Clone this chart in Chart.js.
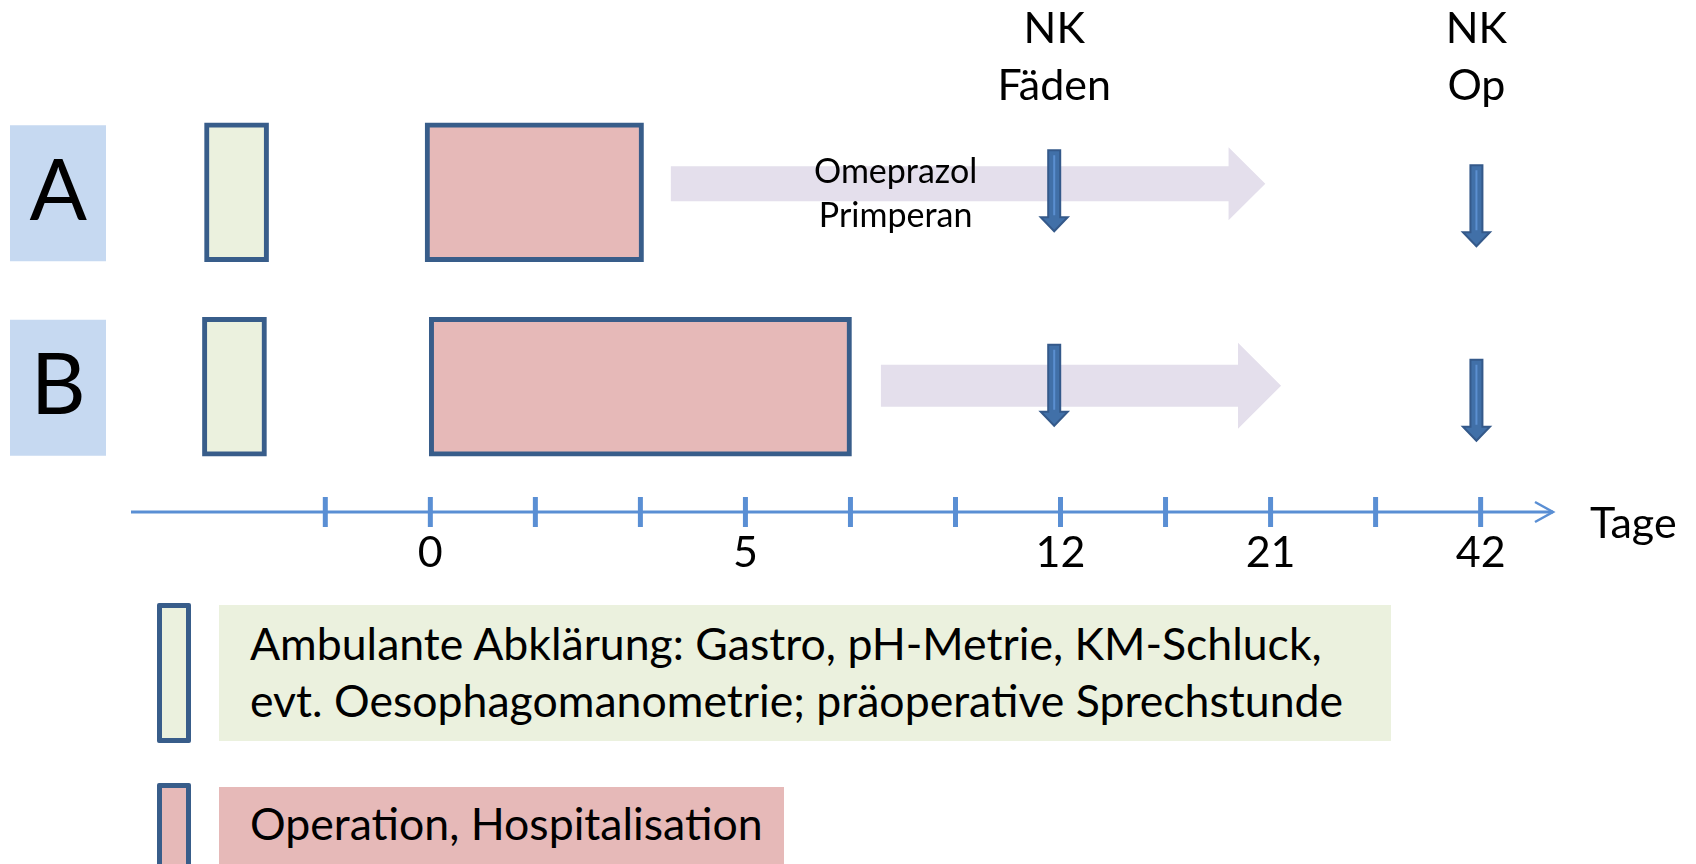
<!DOCTYPE html>
<html>
<head>
<meta charset="utf-8">
<script src="https://cdn.jsdelivr.net/npm/chart.js@4.4.1/dist/chart.umd.min.js"></script>
<style>
  body { margin: 0; background: #fff; }
  #wrap { position: relative; width: 1696px; height: 864px; overflow: hidden; font-family: Lato, sans-serif; }
  canvas { position: absolute; left: 0; top: 0; }
  .key { position: absolute; box-sizing: border-box; border: 5px solid #385d8a; border-radius: 2px; }
  .txt { position: absolute; box-sizing: border-box; font-size: 44.6px; line-height: 57px; color: #000; padding-left: 31px; white-space: nowrap; }
</style>
</head>
<body>
<div id="wrap">
  <canvas id="timeline" width="1696" height="864"></canvas>
  <div class="key" style="left:157px;top:603px;width:34px;height:140px;background:#ebf1de"></div>
  <div class="txt" style="left:219px;top:605px;width:1172px;height:136px;background:#ebf1de;padding-top:9px">Ambulante Abklärung: Gastro, pH-Metrie, KM-Schluck,<br>evt. Oesophagomanometrie; präoperative Sprechstunde</div>
  <div class="key" style="left:157px;top:783px;width:34px;height:110px;background:#e6b9b8"></div>
  <div class="txt" style="left:219px;top:787px;width:565px;height:100px;background:#e6b9b8;padding-top:7px">Operation, Hospitalisation</div>
</div>
<script>
// Positionen in Achseneinheiten (ein Strich = 1)
const rows = ['A', 'B'];
const tickLabels = ['', '0', '', '', '5', '', '', '12', '', '21', '', '42'];
const ambulant = [[-1.15, -0.54], [-1.17, -0.56]];
const hospital = [[0.95, 3.03], [0.99, 5.01]];
const medication = [[3.29, 8.95], [5.29, 9.10]];
const medHeadStart = [8.60, 8.69];
const medText = ['Omeprazol', 'Primperan'];
const medTextPos = 5.43;
const controls = [6.94, 10.96];
const controlLabels = [['NK', 'Fäden'], ['NK', 'Op']];

Chart.defaults.font.family = 'Lato, sans-serif';
Chart.defaults.color = '#000';

const axisBlue = '#5a8fd4';

function downArrow(ctx, x, top, len) {
    ctx.beginPath();
    ctx.moveTo(x - 6, top);
    ctx.lineTo(x + 6, top);
    ctx.lineTo(x + 6, top + len - 14);
    ctx.lineTo(x + 13.5, top + len - 14);
    ctx.lineTo(x, top + len);
    ctx.lineTo(x - 13.5, top + len - 14);
    ctx.lineTo(x - 6, top + len - 14);
    ctx.closePath();
    ctx.fillStyle = '#4170a8';
    ctx.fill();
    ctx.strokeStyle = '#34598a';
    ctx.lineWidth = 2;
    ctx.stroke();
    ctx.beginPath();
    ctx.moveTo(x, top + 5);
    ctx.lineTo(x, top + len - 16);
    ctx.strokeStyle = '#5b8fd0';
    ctx.lineWidth = 2;
    ctx.stroke();
}

const extras = {
    id: 'extras',
    beforeDraw(chart) {
        // blaue Kaestchen hinter A / B
        const ctx = chart.ctx, y = chart.scales.y;
        ctx.save();
        ctx.fillStyle = '#c6d9f1';
        rows.forEach((r, i) => {
            const cy = y.getPixelForValue(i);
            ctx.fillRect(10, cy - 67, 96, 136);
        });
        ctx.restore();
    },
    beforeDatasetsDraw(chart) {
        const ctx = chart.ctx, x = chart.scales.x, y = chart.scales.y;
        const body = [17.5, 21], head = [36.5, 43], shift = [-8.5, -1];
        ctx.save();
        ctx.fillStyle = '#e4dfec';
        medication.forEach((m, i) => {
            const cy = y.getPixelForValue(i) + shift[i];
            const x0 = x.getPixelForValue(m[0]), x1 = x.getPixelForValue(m[1]);
            const xh = x.getPixelForValue(medHeadStart[i]);
            ctx.beginPath();
            ctx.moveTo(x0, cy - body[i]);
            ctx.lineTo(xh, cy - body[i]);
            ctx.lineTo(xh, cy - head[i]);
            ctx.lineTo(x1, cy);
            ctx.lineTo(xh, cy + head[i]);
            ctx.lineTo(xh, cy + body[i]);
            ctx.lineTo(x0, cy + body[i]);
            ctx.closePath();
            ctx.fill();
        });
        ctx.restore();
    },
    afterDatasetsDraw(chart) {
        const ctx = chart.ctx, x = chart.scales.x, y = chart.scales.y;
        const area = chart.chartArea;
        ctx.save();
        // Zeitachse mit Pfeil
        const ay = x.top + 28;
        ctx.strokeStyle = axisBlue;
        ctx.lineWidth = 3;
        ctx.beginPath();
        ctx.moveTo(area.left, ay);
        ctx.lineTo(area.right + 2, ay);
        ctx.stroke();
        ctx.lineWidth = 2.5;
        ctx.beginPath();
        ctx.moveTo(area.right - 16, ay - 10);
        ctx.lineTo(area.right + 2, ay);
        ctx.lineTo(area.right - 16, ay + 10);
        ctx.stroke();
        ctx.lineWidth = 5;
        x.ticks.forEach(t => {
            const px = x.getPixelForValue(t.value);
            ctx.beginPath();
            ctx.moveTo(px, ay - 15);
            ctx.lineTo(px, ay + 15);
            ctx.stroke();
        });
        ctx.fillStyle = '#000';
        ctx.textBaseline = 'alphabetic';
        ctx.font = '43px Lato, sans-serif';
        ctx.textAlign = 'left';
        ctx.fillText('Tage', area.right + 39, ay + 26);

        // Medikamente
        ctx.textAlign = 'center';
        ctx.font = '34px Lato, sans-serif';
        const my = y.getPixelForValue(0);
        ctx.fillText(medText[0], x.getPixelForValue(medTextPos), my - 9);
        ctx.fillText(medText[1], x.getPixelForValue(medTextPos), my + 35);

        // Nachkontrollen
        const tops = [-42, -27];
        controls.forEach((c, k) => {
            const px = x.getPixelForValue(c);
            rows.forEach((r, i) => downArrow(ctx, px, y.getPixelForValue(i) + tops[k], 81));
            ctx.fillStyle = '#000';
            ctx.font = '43px Lato, sans-serif';
            ctx.fillText(controlLabels[k][0], px, area.top - 52);
            ctx.fillText(controlLabels[k][1], px, area.top + 5);
        });
        ctx.restore();
    }
};

new Chart(document.getElementById('timeline'), {
    type: 'bar',
    data: {
        labels: rows,
        datasets: [{
            label: 'Ambulante Abklärung',
            data: ambulant,
            backgroundColor: '#ebf1de',
            borderColor: '#385d8a',
            borderWidth: 5,
            borderSkipped: false,
            barThickness: 139,
            grouped: false
        }, {
            label: 'Operation, Hospitalisation',
            data: hospital,
            backgroundColor: '#e6b9b8',
            borderColor: '#385d8a',
            borderWidth: 5,
            borderSkipped: false,
            barThickness: 139,
            grouped: false
        }]
    },
    options: {
        indexAxis: 'y',
        responsive: false,
        animation: false,
        layout: { padding: { left: 0, right: 145, top: 92, bottom: 280 } },
        plugins: { legend: { display: false }, tooltip: { enabled: false } },
        scales: {
            x: {
                type: 'linear',
                min: -1.85,
                max: 11.67,
                afterBuildTicks: s => { s.ticks = tickLabels.map((_, i) => ({ value: i })); },
                afterFit: s => { s.height = 100; },
                grid: { display: false, drawTicks: false },
                border: { display: false },
                ticks: {
                    autoSkip: false,
                    maxRotation: 0,
                    padding: 43,
                    font: { size: 43 },
                    callback: v => tickLabels[v] ?? ''
                }
            },
            y: {
                type: 'category',
                afterFit: s => { s.width = 131; },
                grid: { display: false, drawTicks: false },
                border: { display: false },
                ticks: { crossAlign: 'center', padding: 44, font: { size: 85 } }
            }
        }
    },
    plugins: [extras]
});
</script>
</body>
</html>
